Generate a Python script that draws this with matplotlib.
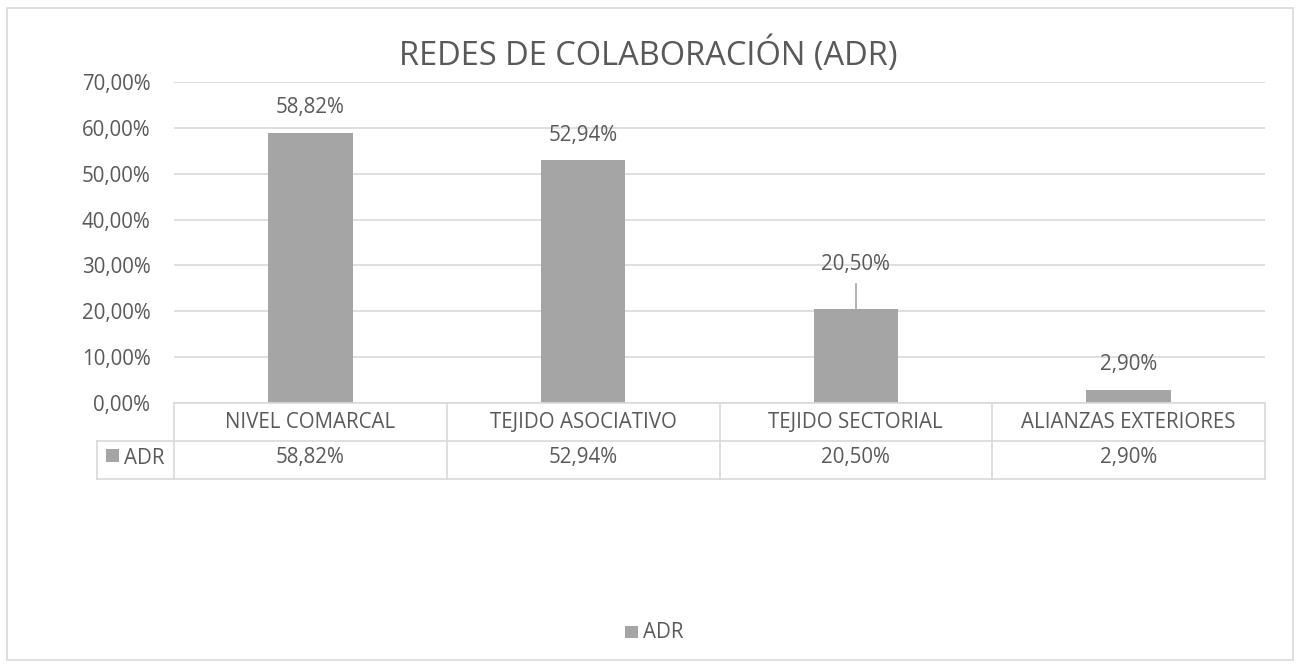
import matplotlib
matplotlib.use("Agg")
import matplotlib.pyplot as plt
from matplotlib.lines import Line2D
from matplotlib.patches import Rectangle
import matplotlib.transforms as mtransforms

categories = ["NIVEL COMARCAL", "TEJIDO ASOCIATIVO", "TEJIDO SECTORIAL", "ALIANZAS EXTERIORES"]
values = [0.5882, 0.5294, 0.2050, 0.0290]
series_name = "ADR"
title = "REDES DE COLABORACIÓN (ADR)"
yticks = [0.0, 0.1, 0.2, 0.3, 0.4, 0.5, 0.6, 0.7]

def pct(v):
    return f"{v*100:.2f}%".replace(".", ",")

W, H = 1299, 664
DPI = 100
FONT = "Open Sans"
TXT = "#595959"
GRID = "#D9D9D9"
BAR = "#A5A5A5"
FS = 14.8

plt.rcParams["font.family"] = [FONT, "DejaVu Sans"]

fig = plt.figure(figsize=(W / DPI, H / DPI), dpi=DPI)

def fx(x):
    return x / W

def fy(y):
    return 1 - y / H

# outer border
fig.add_artist(Rectangle((fx(7), fy(660)), fx(1293) - fx(7), fy(8) - fy(660),
                         transform=fig.transFigure, fill=False, edgecolor="#D9D9D9", lw=1.2))

L, R, T, B = 174, 1265, 82, 403
ax = fig.add_axes([fx(L), fy(B), fx(R) - fx(L), fy(T) - fy(B)])
x = list(range(len(categories)))
ax.bar(x, values, width=0.31, color=BAR, zorder=3)
ax.set_xlim(-0.5, len(categories) - 0.5)
ax.set_ylim(0, 0.7)
ax.set_yticks(yticks)
ax.set_yticklabels([pct(v) for v in yticks], fontsize=FS, color=TXT)
ax.tick_params(axis="y", length=0, pad=17)
ax.tick_params(axis="x", length=0, labelbottom=False)
ax.yaxis.grid(True, color=GRID, lw=1.2, zorder=0)
for s in ax.spines.values():
    s.set_visible(False)
ax.set_xticks([])

# data labels (offset in pixels above bar top)
offsets = [26, 25, 44, 25]
for xi, v, off in zip(x, values, offsets):
    tr = mtransforms.offset_copy(ax.transData, fig=fig, x=0, y=off, units="dots")
    ax.text(xi, v, pct(v), transform=tr, ha="center", va="center", fontsize=FS, color=TXT, zorder=4)
    if off > 30:
        p0 = ax.transData.transform((xi, v))
        ax.add_line(Line2D([p0[0], p0[0]], [p0[1], p0[1] + off - 19], transform=None,
                           color=BAR, lw=1.2, zorder=4))

# title
fig.text(fx(648), fy(55), title, ha="center", va="center", fontsize=23.5, color=TXT)

# data table
def hline(y, x0, x1):
    fig.add_artist(Line2D([fx(x0), fx(x1)], [fy(y), fy(y)], transform=fig.transFigure, color=GRID, lw=1.2))

def vline(xp, y0, y1):
    fig.add_artist(Line2D([fx(xp), fx(xp)], [fy(y0), fy(y1)], transform=fig.transFigure, color=GRID, lw=1.2))

R1, R2, R3 = 403, 441, 479
hline(R1, L, R)
hline(R2, 97, R)
hline(R3, 97, R)
vline(97, R2, R3)
vline(L, R1, R3)
bounds = [L + (R - L) * i / len(categories) for i in range(len(categories) + 1)]
for b in bounds[1:]:
    vline(b, R1, R3)

blend = mtransforms.blended_transform_factory(ax.transData, fig.transFigure)
for xi, c, v in zip(x, categories, values):
    fig.text(xi, fy((R1 + R2) / 2), c, transform=blend, fontsize=FS, color=TXT, ha="center", va="center")
    fig.text(xi, fy((R2 + R3) / 2 - 2), pct(v), transform=blend, fontsize=FS, color=TXT, ha="center", va="center")

# legend key in table
fig.add_artist(Rectangle((fx(106), fy(462)), fx(119) - fx(106), fy(449) - fy(462),
                         transform=fig.transFigure, color=BAR, lw=0))
fig.text(fx(124), fy(458), series_name, ha="left", va="center", fontsize=FS, color=TXT)

# bottom legend
fig.add_artist(Rectangle((fx(625), fy(638)), fx(638) - fx(625), fy(626) - fy(638),
                         transform=fig.transFigure, color=BAR, lw=0))
fig.text(fx(643), fy(632), series_name, ha="left", va="center", fontsize=FS, color=TXT)

fig.savefig("out.png", dpi=DPI, facecolor="white")
